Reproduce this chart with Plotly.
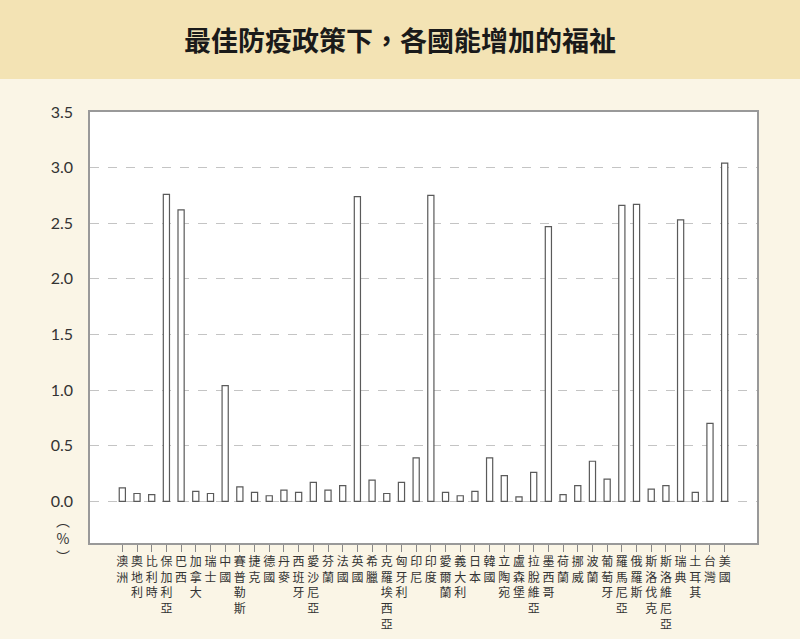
import plotly.graph_objects as go

countries = ["澳洲", "奧地利", "比利時", "保加利亞", "巴西", "加拿大", "瑞士", "中國",
             "賽普勒斯", "捷克", "德國", "丹麥", "西班牙", "愛沙尼亞", "芬蘭", "法國",
             "英國", "希臘", "克羅埃西亞", "匈牙利", "印尼", "印度", "愛爾蘭", "義大利",
             "日本", "韓國", "立陶宛", "盧森堡", "拉脫維亞", "墨西哥", "荷蘭", "挪威",
             "波蘭", "葡萄牙", "羅馬尼亞", "俄羅斯", "斯洛伐克", "斯洛維尼亞", "瑞典",
             "土耳其", "台灣", "美國"]
welfare_gain = [0.12, 0.07, 0.06, 2.76, 2.62, 0.09, 0.07, 1.04,
                0.13, 0.08, 0.05, 0.10, 0.08, 0.17, 0.10, 0.14,
                2.74, 0.19, 0.07, 0.17, 0.39, 2.75, 0.08, 0.05,
                0.09, 0.39, 0.23, 0.04, 0.26, 2.47, 0.06, 0.14,
                0.36, 0.20, 2.66, 2.67, 0.11, 0.14, 2.53,
                0.08, 0.70, 3.04]
y_ticks = [0.0, 0.5, 1.0, 1.5, 2.0, 2.5, 3.0, 3.5]

title = "最佳防疫政策下，各國能增加的福祉"
cjk = "Noto Sans CJK TC"

# vertical labels: one character per line
vertical = ["<br>".join(list(c)) for c in countries]
xs = list(range(len(countries)))

fig = go.Figure(go.Bar(
    x=xs, y=welfare_gain, width=0.42,
    marker=dict(color="white", line=dict(color="#5a5a5a", width=1.2)),
    hoverinfo="skip",
))

fig.update_layout(
    width=800, height=639,
    margin=dict(l=90, r=43, t=112, b=96),
    paper_bgcolor="#faf5e6", plot_bgcolor="white",
    showlegend=False,
    font=dict(family=cjk, color="#333"),
    shapes=[dict(type="rect", xref="paper", yref="paper", x0=-0.2, x1=1.2,
                 y0=1.0766, y1=1.4, fillcolor="#f3e3b4", line=dict(width=0),
                 layer="below")],
    annotations=[
        dict(text="<b>" + title + "</b>", xref="paper", yref="paper",
             x=(400 - 90) / 667, y=(543 - 40) / 431, xanchor="center", yanchor="middle",
             showarrow=False, font=dict(size=27, color="#1a1a1a", family=cjk)),
        dict(text="︵<br>%<br>︶", xref="paper", yref="paper",
             x=(63 - 90) / 667, y=(543 - 538) / 431, xanchor="center", yanchor="middle",
             showarrow=False, font=dict(size=14, color="#333", family=cjk)),
    ],
)

fig.update_xaxes(
    range=[-2.2, 43.2], tickvals=xs, ticktext=vertical,
    ticks="outside", ticklen=7, tickcolor="#888", tickwidth=1,
    tickfont=dict(size=12, family=cjk, color="#333"), tickangle=0,
    automargin=False,
    showgrid=False, zeroline=False,
    showline=True, linecolor="#999", linewidth=1.5, mirror=True,
)
fig.update_yaxes(
    range=[-0.375, 3.5], tickvals=y_ticks, ticktext=["%.1f" % v for v in y_ticks],
    tickfont=dict(size=16, family="Lato", color="#333"),
    ticklabelstandoff=12, automargin=False,
    showgrid=True, gridcolor="#c4c4c4", griddash="dash", gridwidth=1,
    zeroline=False,
    showline=True, linecolor="#999", linewidth=1.5, mirror=True,
)

fig.write_html("out.html", config={"displayModeBar": False},
               post_script="document.body.style.margin='0';"
                           "document.body.style.background='#faf5e6';")
